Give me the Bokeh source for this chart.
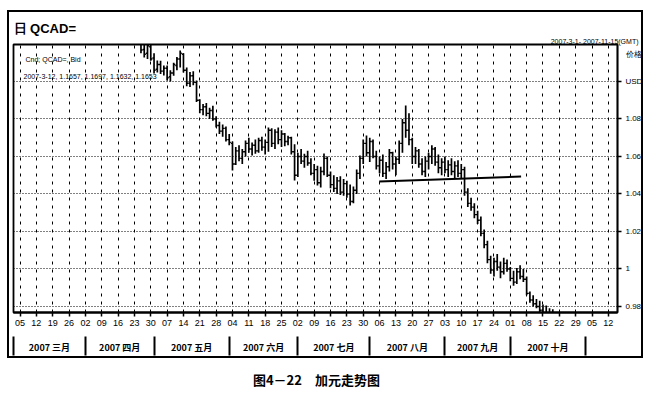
from bokeh.plotting import figure
from bokeh.models import Range1d, FixedTicker, LinearAxis, Label, ColumnDataSource, Title
from bokeh.transform import dodge
from bokeh.layouts import column
from bokeh.embed import file_html
from bokeh.resources import INLINE

# ---------------- data (trading-day index, 0 = 2007-03-01) ----------------
day_index = list(range(39, 166))
opens = [1.1240, 1.1170, 1.1150, 1.1185, 1.1125, 1.1065, 1.1090, 1.1055, 1.1070, 1.1025,
         1.1045, 1.1085, 1.1120, 1.1145, 1.1060, 1.0990, 1.1030, 1.0995, 1.0900, 1.0850,
         1.0865, 1.0830, 1.0845, 1.0800, 1.0765, 1.0735, 1.0750, 1.0690, 1.0670, 1.0560,
         1.0630, 1.0590, 1.0625, 1.0670, 1.0640, 1.0660, 1.0630, 1.0685, 1.0650, 1.0675,
         1.0740, 1.0670, 1.0730, 1.0690, 1.0720, 1.0680, 1.0700, 1.0625, 1.0500, 1.0600,
         1.0575, 1.0600, 1.0565, 1.0510, 1.0530, 1.0460, 1.0520, 1.0590, 1.0500, 1.0450,
         1.0430, 1.0470, 1.0410, 1.0455, 1.0400, 1.0360, 1.0420, 1.0510, 1.0590, 1.0670,
         1.0620, 1.0680, 1.0600, 1.0550, 1.0580, 1.0510, 1.0545, 1.0620, 1.0560, 1.0585,
         1.0670, 1.0780, 1.0740, 1.0690, 1.0600, 1.0630, 1.0560, 1.0520, 1.0575, 1.0600,
         1.0640, 1.0570, 1.0540, 1.0570, 1.0530, 1.0555, 1.0520, 1.0550, 1.0510, 1.0530,
         1.0410, 1.0350, 1.0330, 1.0290, 1.0260, 1.0190, 1.0130, 1.0050, 0.9995, 1.0040,
         1.0010, 0.9985, 1.0030, 1.0000, 0.9950, 0.9930, 0.9985, 0.9960, 0.9945, 0.9870,
         0.9835, 0.9815, 0.9800, 0.9780, 0.9760, 0.9745, 0.9720]
highs = [1.1262, 1.1228, 1.1215, 1.1230, 1.1150, 1.1112, 1.1110, 1.1085, 1.1085, 1.1060,
         1.1100, 1.1130, 1.1165, 1.1150, 1.1075, 1.1050, 1.1055, 1.1005, 1.0905, 1.0880,
         1.0885, 1.0860, 1.0870, 1.0815, 1.0785, 1.0770, 1.0760, 1.0720, 1.0680, 1.0650,
         1.0660, 1.0640, 1.0685, 1.0700, 1.0675, 1.0690, 1.0700, 1.0705, 1.0690, 1.0755,
         1.0750, 1.0745, 1.0755, 1.0740, 1.0725, 1.0710, 1.0705, 1.0665, 1.0620, 1.0640,
         1.0615, 1.0630, 1.0590, 1.0560, 1.0550, 1.0545, 1.0616, 1.0600, 1.0520, 1.0500,
         1.0490, 1.0495, 1.0480, 1.0470, 1.0450, 1.0440, 1.0530, 1.0605, 1.0690, 1.0712,
         1.0700, 1.0690, 1.0630, 1.0600, 1.0610, 1.0570, 1.0640, 1.0625, 1.0600, 1.0685,
         1.0800, 1.0872, 1.0830, 1.0700, 1.0650, 1.0640, 1.0590, 1.0600, 1.0620, 1.0660,
         1.0650, 1.0610, 1.0590, 1.0600, 1.0580, 1.0590, 1.0575, 1.0580, 1.0560, 1.0545,
         1.0430, 1.0380, 1.0350, 1.0310, 1.0280, 1.0210, 1.0150, 1.0070, 1.0060, 1.0080,
         1.0040, 1.0060, 1.0050, 1.0010, 0.9990, 1.0005, 1.0020, 1.0000, 0.9960, 0.9880,
         0.9860, 0.9840, 0.9830, 0.9810, 0.9805, 0.9790, 0.9785]
lows = [1.1150, 1.1128, 1.1120, 1.1110, 1.1043, 1.1048, 1.1040, 1.1032, 1.1005, 1.1000,
        1.1030, 1.1060, 1.1075, 1.1048, 1.0975, 1.0970, 1.0980, 1.0890, 1.0830, 1.0820,
        1.0815, 1.0800, 1.0790, 1.0755, 1.0720, 1.0705, 1.0680, 1.0660, 1.0525, 1.0555,
        1.0575, 1.0560, 1.0600, 1.0620, 1.0605, 1.0615, 1.0620, 1.0630, 1.0610, 1.0625,
        1.0650, 1.0640, 1.0665, 1.0650, 1.0655, 1.0660, 1.0610, 1.0472, 1.0490, 1.0560,
        1.0540, 1.0550, 1.0500, 1.0470, 1.0445, 1.0435, 1.0500, 1.0490, 1.0430, 1.0410,
        1.0400, 1.0395, 1.0390, 1.0380, 1.0339, 1.0350, 1.0400, 1.0480, 1.0560, 1.0600,
        1.0570, 1.0590, 1.0530, 1.0510, 1.0490, 1.0480, 1.0520, 1.0530, 1.0500, 1.0560,
        1.0620, 1.0700, 1.0660, 1.0560, 1.0560, 1.0540, 1.0500, 1.0490, 1.0530, 1.0560,
        1.0550, 1.0510, 1.0500, 1.0510, 1.0490, 1.0500, 1.0485, 1.0490, 1.0480, 1.0390,
        1.0330, 1.0310, 1.0270, 1.0240, 1.0175, 1.0110, 1.0030, 0.9975, 0.9960, 0.9990,
        0.9950, 0.9970, 0.9985, 0.9935, 0.9910, 0.9920, 0.9945, 0.9930, 0.9860, 0.9820,
        0.9800, 0.9790, 0.9760, 0.9740, 0.9730, 0.9700, 0.9690]
closes = [1.1168, 1.1145, 1.1190, 1.1120, 1.1060, 1.1090, 1.1055, 1.1070, 1.1020, 1.1045,
          1.1090, 1.1120, 1.1150, 1.1060, 1.0990, 1.1030, 1.0995, 1.0900, 1.0850, 1.0865,
          1.0830, 1.0845, 1.0800, 1.0765, 1.0735, 1.0750, 1.0690, 1.0675, 1.0560, 1.0630,
          1.0590, 1.0625, 1.0670, 1.0640, 1.0660, 1.0630, 1.0685, 1.0650, 1.0675, 1.0740,
          1.0670, 1.0730, 1.0690, 1.0720, 1.0680, 1.0700, 1.0625, 1.0500, 1.0600, 1.0575,
          1.0600, 1.0565, 1.0510, 1.0530, 1.0460, 1.0520, 1.0590, 1.0500, 1.0450, 1.0430,
          1.0470, 1.0410, 1.0455, 1.0400, 1.0360, 1.0420, 1.0510, 1.0590, 1.0670, 1.0620,
          1.0680, 1.0600, 1.0550, 1.0580, 1.0510, 1.0545, 1.0620, 1.0560, 1.0585, 1.0670,
          1.0780, 1.0740, 1.0690, 1.0600, 1.0630, 1.0560, 1.0520, 1.0575, 1.0600, 1.0640,
          1.0570, 1.0540, 1.0570, 1.0530, 1.0555, 1.0520, 1.0550, 1.0510, 1.0530, 1.0410,
          1.0350, 1.0330, 1.0290, 1.0260, 1.0190, 1.0130, 1.0050, 0.9995, 1.0040, 1.0010,
          0.9985, 1.0030, 1.0000, 0.9950, 0.9930, 0.9985, 0.9960, 0.9945, 0.9870, 0.9835,
          0.9815, 0.9800, 0.9780, 0.9760, 0.9745, 0.9720, 0.9700]

week_ticks = [2, 7, 12, 17, 22, 27, 32, 37, 42, 47, 52, 57, 62, 67, 72, 77, 82, 87, 92,
              97, 102, 107, 112, 117, 122, 127, 132, 137, 142, 147, 152, 157, 162, 167,
              172, 177, 182]
week_labels = ["05", "12", "19", "26", "02", "09", "16", "23", "30", "07", "14", "21", "28",
               "04", "11", "18", "25", "02", "09", "16", "23", "30", "06", "13", "20", "27",
               "03", "10", "17", "24", "01", "08", "15", "22", "29", "05", "12"]
month_starts = [0, 22, 43, 66, 87, 109, 132, 152, 175]
month_labels = ["2007 三月", "2007 四月", "2007 五月", "2007 六月",
                "2007 七月", "2007 八月", "2007 九月", "2007 十月"]
price_ticks = [0.98, 1.00, 1.02, 1.04, 1.06, 1.08, 1.10]
price_labels = ["0.98", "1", "1.02", "1.04", "1.06", "1.08", "USD"]
unit_tick = 1.1144
unit_label = "价格"
trend_x = [111.9, 155.3]
trend_y = [1.0467, 1.0493]

# ---------------- main figure ----------------
FONT = "Liberation Sans"
CJK = "Noto Sans CJK SC"
p = figure(width=636, height=348, output_backend="svg", toolbar_location=None,
           x_range=Range1d(0, 184.8), y_range=Range1d(0.9768, 1.1197),
           y_axis_location="right",
           min_border_left=4, min_border_right=25, min_border_top=32, min_border_bottom=48,
           margin=(10, 0, 0, 7), styles={"border": "2px solid black"})
p.title = Title(text="日 QCAD=", align="left", text_font=FONT, text_font_size="13px",
                text_font_style="bold", text_color="black", standoff=0)
p.add_layout(Title(text="2007-3-1- 2007-11-15(GMT)", align="right", offset=-21,
                   text_font=FONT, text_font_size="7px", text_font_style="normal",
                   text_color="black", standoff=0), "above")
p.background_fill_color = "white"
p.border_fill_color = "white"
p.outline_line_color = "black"
p.outline_line_width = 1.8

wt = FixedTicker(ticks=week_ticks)
xa = p.xaxis[0]
xa.ticker = wt
xa.major_label_overrides = dict(zip(week_ticks, week_labels))
xa.major_tick_out = 4
xa.major_tick_in = 0
xa.minor_tick_line_color = None
xa.axis_line_width = 2
xa.major_tick_line_width = 1.5
xa.major_label_standoff = 3
xa.major_label_text_font = FONT
xa.major_label_text_font_size = "9px"
xa.major_label_text_color = "black"

ya = p.yaxis[0]
ya.ticker = FixedTicker(ticks=price_ticks + [unit_tick], minor_ticks=price_ticks)
ya.major_label_overrides = dict(zip(price_ticks + [unit_tick], price_labels + [unit_label]))
ya.major_tick_line_color = None
ya.major_tick_out = 0
ya.major_tick_in = 0
ya.minor_tick_out = 4
ya.minor_tick_in = 0
ya.minor_tick_line_color = "black"
ya.minor_tick_line_width = 1.5
ya.axis_line_width = 1.5
ya.major_label_standoff = 4
ya.major_label_text_font = FONT
ya.major_label_text_font_size = "8px"
ya.major_label_text_color = "black"

p.xgrid.ticker = wt
p.xgrid.grid_line_color = "black"
p.xgrid.grid_line_dash = "3 5"
p.xgrid.grid_line_width = 1
p.ygrid.ticker = FixedTicker(ticks=price_ticks)
p.ygrid.grid_line_color = "black"
p.ygrid.grid_line_dash = "1 2"
p.ygrid.grid_line_width = 1

month_centers = [(a + b) / 2 for a, b in zip(month_starts[:-1], month_starts[1:])]
ma = LinearAxis(ticker=FixedTicker(ticks=month_centers, minor_ticks=month_starts),
                major_label_overrides=dict(zip(month_centers, month_labels)),
                axis_line_color=None, major_tick_line_color=None,
                major_tick_out=0, major_tick_in=0,
                minor_tick_in=-8, minor_tick_out=27, minor_tick_line_width=2,
                minor_tick_line_color="black",
                major_label_standoff=-15,
                major_label_text_font=CJK, major_label_text_font_style="bold",
                major_label_text_font_size="9px", major_label_text_color="black")
p.add_layout(ma, "below")

# ---------------- OHLC bars ----------------
src = ColumnDataSource(dict(x=day_index, o=opens, h=highs, l=lows, c=closes))
p.segment(x0="x", y0="l", x1="x", y1="h", source=src, line_color="black", line_width=1.7)
p.segment(x0=dodge("x", -0.5), y0="o", x1="x", y1="o", source=src, line_color="black", line_width=1.4)
p.segment(x0="x", y0="c", x1=dodge("x", 0.5), y1="c", source=src, line_color="black", line_width=1.4)

p.line(trend_x, trend_y, line_color="black", line_width=2)

FH = 268
p.add_layout(Label(x=12, y=FH - 15, x_units="screen", y_units="screen", text="Cnd; QCAD=, Bid",
                   text_font=FONT, text_font_size="7px", text_color="black", text_baseline="middle"))
p.add_layout(Label(x=10, y=FH - 32, x_units="screen", y_units="screen",
                   text="2007-3-12, 1.1657, 1.1697, 1.1632, 1.1653",
                   text_font=FONT, text_font_size="7px", text_color="black", text_baseline="middle"))

# ---------------- caption ----------------
cap = figure(width=653, height=41, output_backend="svg", toolbar_location=None,
             x_range=Range1d(0, 653), y_range=Range1d(0, 41), min_border=0)
cap.axis.visible = False
cap.grid.visible = False
cap.outline_line_color = None
cap.title = None
cap.add_layout(Label(x=328, y=20, text="图4－22　加元走势图", text_font=CJK, text_font_size="13px",
                     text_font_style="bold", text_color="black", text_align="center",
                     text_baseline="middle"))

layout = column(p, cap, spacing=0)
open("out.html", "w").write(file_html(layout, INLINE))
